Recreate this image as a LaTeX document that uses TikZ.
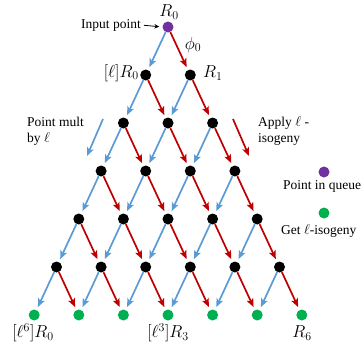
\documentclass[tikz,border=0pt]{standalone}
\usepackage{fontspec}
\setmainfont{Liberation Serif}
\usetikzlibrary{arrows.meta}
\definecolor{myblue}{RGB}{91,155,213}
\definecolor{myred}{RGB}{192,0,0}
\definecolor{mypurple}{RGB}{112,48,160}
\definecolor{mygreen}{RGB}{0,176,80}
\begin{document}
\begin{tikzpicture}[x=1pt,y=-1pt,
  dot/.style={circle,fill=black,minimum size=11pt,inner sep=0pt},
  pdot/.style={dot,fill=mypurple},
  gdot/.style={dot,fill=mygreen},
  arr/.style={line width=1.7pt,-{Stealth[length=8.5pt,width=7pt,inset=2pt]},shorten >=3pt},
  barr/.style={arr,draw=myblue},
  rarr/.style={arr,draw=myred},
  txt/.style={font=\fontsize{13.5}{15}\selectfont,inner sep=0pt,align=left},
  mlab/.style={font=\fontsize{16.5}{18}\selectfont,inner sep=0pt}
]
\useasboundingbox (0,0) rectangle (363,348);
% nodes
\node[pdot] (n-0-0) at (168,27) {};
\foreach \k in {1,...,5}{
  \foreach \i in {0,...,\k}{
    \node[dot] (n-\k-\i) at ({168+(2*\i-\k)*22.3},{27+48*\k}) {};
  }
}
\foreach \i in {0,...,6}{
  \node[gdot] (n-6-\i) at ({168+(2*\i-6)*22.3},{27+48*6}) {};
}
% edges
\foreach \k in {0,...,5}{
  \foreach \i in {0,...,\k}{
    \pgfmathtruncatemacro\kk{\k+1}
    \pgfmathtruncatemacro\ii{\i+1}
    \draw[barr] (n-\k-\i) -- (n-\kk-\i);
    \draw[rarr] (n-\k-\i) -- (n-\kk-\ii);
  }
}
% labels
\node[mlab] (lR0) at (169,12) {$R_0$};
\node[mlab] (lphi) at (193,45) {$\phi_0$};
\node[mlab,anchor=east] (lR0l) at (139,73) {$[\ell]R_0$};
\node[mlab,anchor=west] (lR1) at (203,73) {$R_1$};
\node[txt,anchor=east] (inp) at (141,25) {Input point};
\draw[line width=0.8pt,-{Stealth[length=5pt,width=4.5pt]},shorten <=3pt,shorten >=3pt] (inp.east) -- (n-0-0.west);
% legend arrows
\coordinate (pm-s) at (103,119);
\coordinate (pm-e) at (87,156);
\draw[barr,shorten >=0pt] (pm-s) -- (pm-e);
\coordinate (ai-s) at (233,119);
\coordinate (ai-e) at (249,156);
\draw[rarr,shorten >=0pt] (ai-s) -- (ai-e);
\node[txt,anchor=north west] (pmtxt) at (27,117) {Point mult\\[1pt]by $\ell$};
\node[txt,anchor=north west] (aitxt) at (258,116) {Apply $\ell$ -\\[1pt]isogeny};
% legend
\node[pdot] (lgp) at (324,172) {};
\node[txt] (lgptxt) at (322,186) {Point in queue};
\node[gdot] (lgg) at (324,213) {};
\node[txt,anchor=west] (lggtxt) at (281,231) {Get $\ell$-isogeny};
% bottom labels
\node[mlab] (b0) at (33,333) {$[\ell^6]R_0$};
\node[mlab] (b3) at (168,333) {$[\ell^3]R_3$};
\node[mlab] (b6) at (302,333) {$R_6$};
\end{tikzpicture}
\end{document}
